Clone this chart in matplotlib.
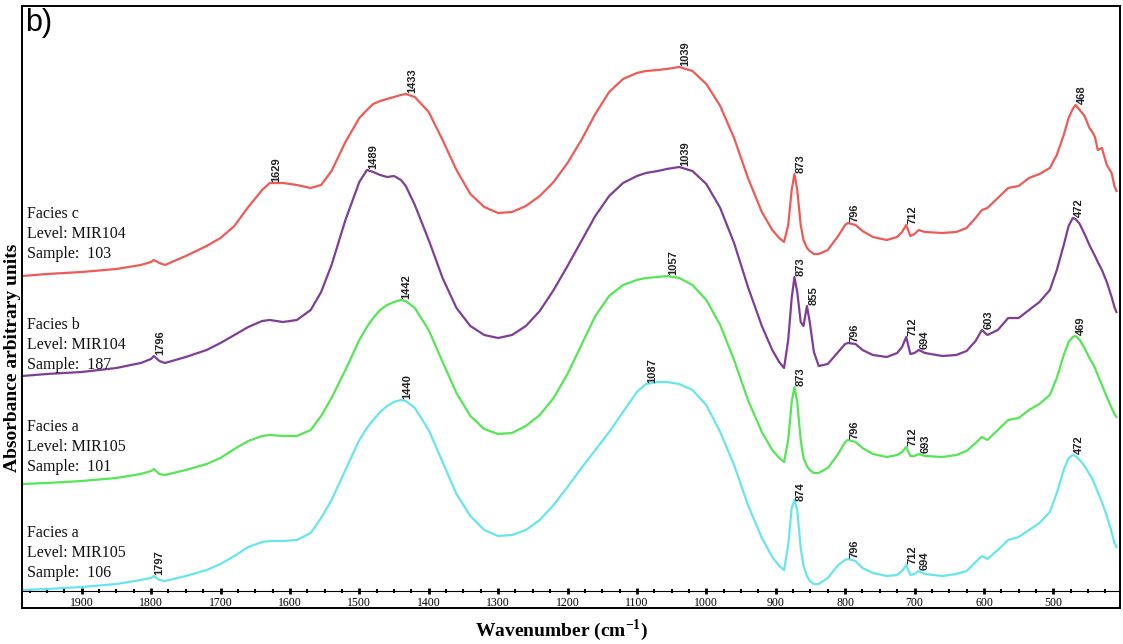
# FTIR SPECTRA - FACIES a, b, c

import numpy as np
import matplotlib.pyplot as plt
from matplotlib.ticker import FixedLocator, MultipleLocator

plt.rcParams['mathtext.fontset'] = 'custom'
plt.rcParams['mathtext.bf'] = 'Liberation Serif:bold'
plt.rcParams['mathtext.rm'] = 'Liberation Serif:bold'

# wavenumber grid (cm-1)
wavenumber = [1986, 1950, 1900, 1850, 1815, 1800, 1796, 1788, 1780, 1750,
              1720, 1700, 1680, 1660, 1640, 1629, 1610, 1590, 1570, 1555,
              1540, 1520, 1500, 1489, 1480, 1470, 1460, 1450, 1440, 1433,
              1420, 1400, 1380, 1360, 1340, 1320, 1300, 1280, 1260, 1240,
              1220, 1200, 1180, 1160, 1140, 1120, 1100, 1087, 1070, 1057,
              1039, 1020, 1000, 980, 960, 940, 920, 905, 895, 888,
              882, 877, 873, 869, 864, 860, 855, 851, 845, 838,
              825, 810, 800, 796, 785, 775, 760, 740, 725, 718,
              712, 706, 700, 694, 685, 660, 640, 625, 612, 603,
              595, 580, 565, 550, 535, 520, 505, 495, 485, 478,
              472, 468, 462, 455, 448, 443, 440, 436, 430, 423,
              416, 412, 409]

# stacked absorbance, arbitrary units
facies_c_103 = [332, 334, 336, 339, 343, 346, 348, 345, 343, 352,
                362, 370, 382, 401, 418, 425, 425, 423, 420, 423,
                437, 466, 490, 498, 504, 507, 509, 511, 513, 514,
                511, 496, 468, 438, 414, 401, 395, 396, 402, 412,
                426, 445, 468, 494, 516, 529, 535, 537, 538, 539,
                541, 537, 524, 502, 470, 430, 396, 378, 370, 366,
                383, 418, 434, 418, 383, 368, 360, 357, 354, 354,
                358, 372, 383, 385, 383, 377, 371, 368, 371, 376,
                383, 372, 374, 378, 376, 375, 376, 380, 390, 398,
                400, 410, 420, 422, 430, 434, 440, 453, 473, 490,
                499, 503, 498, 492, 480, 475, 471, 458, 460, 443,
                435, 422, 417]

facies_b_187 = [232, 234, 236, 240, 245, 249, 252, 247, 245, 251,
                258, 265, 273, 281, 287, 288, 286, 288, 298, 316,
                343, 388, 426, 438, 436, 433, 431, 432, 428, 422,
                403, 368, 330, 300, 282, 273, 270, 273, 282, 297,
                318, 342, 367, 392, 412, 425, 432, 435, 437, 439,
                441, 437, 424, 400, 365, 321, 282, 258, 246, 240,
                268, 310, 331, 316, 286, 282, 302, 286, 256, 242,
                244, 256, 264, 265, 264, 258, 253, 251, 255, 261,
                271, 254, 255, 258, 255, 252, 253, 257, 267, 278,
                273, 278, 290, 290, 298, 306, 318, 338, 363, 382,
                390, 389, 384, 374, 363, 356, 352, 346, 338, 326,
                311, 301, 296]

facies_a_101 = [124, 125, 127, 130, 134, 137, 139, 134, 133, 138,
                144, 150, 159, 167, 172, 173, 172, 172, 178, 192,
                210, 238, 268, 281, 290, 298, 303, 306, 308, 307,
                300, 278, 246, 215, 192, 179, 174, 175, 182, 193,
                210, 234, 263, 292, 312, 323, 328, 330, 331, 332,
                330, 323, 308, 283, 248, 208, 176, 158, 150, 146,
                168, 206, 221, 206, 168, 150, 142, 138, 135, 135,
                140, 154, 166, 168, 166, 160, 154, 151, 153, 156,
                161, 152, 152, 154, 152, 151, 153, 157, 165, 171,
                168, 178, 188, 190, 198, 204, 213, 230, 253, 266,
                271, 272, 268, 260, 250, 244, 240, 233, 223, 211,
                200, 194, 191]

facies_a_106 = [18, 19, 21, 24, 28, 30, 32, 28, 27, 32,
                38, 44, 52, 61, 66, 67, 67, 68, 75, 90,
                108, 138, 168, 180, 188, 196, 202, 206, 208, 207,
                200, 178, 146, 114, 92, 78, 72, 73, 78, 88,
                103, 121, 140, 158, 176, 196, 216, 224, 226, 226,
                224, 218, 203, 176, 143, 103, 70, 51, 42, 38,
                63, 100, 108, 98, 60, 42, 32, 27, 24, 24,
                30, 43, 48, 49, 47, 40, 35, 32, 33, 37,
                43, 33, 34, 37, 34, 32, 34, 37, 46, 52,
                49, 58, 68, 71, 78, 85, 96, 115, 138, 150,
                153, 152, 148, 142, 134, 128, 123, 116, 106, 92,
                76, 65, 61]

peaks_c_103 = [1629, 1433, 1039, 873, 796, 712, 468]
peaks_b_187 = [1796, 1489, 1039, 873, 855, 796, 712, 694, 603, 472]
peaks_a_101 = [1442, 1057, 873, 796, 712, 693, 469]
peaks_a_106 = [1797, 1440, 1087, 874, 796, 712, 694, 472]

sample_labels = [["Facies c", "Level: MIR104", "Sample:  103"],
                 ["Facies b", "Level: MIR104", "Sample:  187"],
                 ["Facies a", "Level: MIR105", "Sample:  101"],
                 ["Facies a", "Level: MIR105", "Sample:  106"]]
label_top = [394, 283, 181, 75]

tick_values = list(range(500, 2000, 100))

colors = ["#EE5A55", "#7E3E98", "#55E655", "#66E6EC"]


def plot_spectra():
    fig = plt.figure(figsize=(11.23, 6.44), dpi=100)
    ax = fig.add_axes([0.0196, 0.0559, 0.9777, 0.9348])
    ax.set_xlim(1986, 404)
    ax.set_ylim(0, 602)

    spectra = [facies_c_103, facies_b_187, facies_a_101, facies_a_106]
    peaks = [peaks_c_103, peaks_b_187, peaks_a_101, peaks_a_106]
    wn = np.array(wavenumber)

    for vals, pk, lines, top, col in zip(spectra, peaks, sample_labels, label_top, colors):
        ax.plot(wn, vals, color=col, lw=1.6, solid_joinstyle="round")
        for p in pk:
            yp = np.interp(p, wn[::-1], np.array(vals)[::-1])
            ax.annotate(str(p), (p, yp), xytext=(1, 1), textcoords="offset points",
                        rotation=90, ha="left", va="bottom", fontsize=8,
                        fontweight="bold", family="Liberation Sans", color="#222222")
        for i, t in enumerate(lines):
            ax.text(1979, top - 20 * i, t, ha="left", va="center", fontsize=11.5,
                    family="Liberation Serif", color="#111111")

    ax.set_xticks([])
    ax.set_yticks([])
    for s in ax.spines.values():
        s.set_linewidth(1.4)

    # axis line with ticks sits inside the frame
    sec = ax.secondary_xaxis(17 / 602)
    sec.xaxis.set_major_locator(FixedLocator(tick_values))
    sec.xaxis.set_minor_locator(MultipleLocator(25))
    sec.tick_params(which="major", direction="inout", length=4, width=2, pad=2, labelsize=8.5)
    sec.tick_params(which="minor", direction="inout", length=3, width=1.5)
    sec.spines["bottom"].set_linewidth(0.8)
    for lab in sec.get_xticklabels():
        lab.set_family("Liberation Serif")

    fig.text(0.011, 0.444, "Absorbance arbitrary units", rotation=90, ha="center", va="center",
             fontsize=14, fontweight="bold", family="Liberation Serif")
    fig.text(0.5, 0.022, r"Wavenumber (cm$^{\mathbf{-1}}$)", ha="center", va="center",
             fontsize=14, fontweight="bold", family="Liberation Serif")
    fig.text(0.022, 0.988, "b)", ha="left", va="top", fontsize=22, family="Liberation Sans")

    fig.savefig("out.png", dpi=100)


def main():
    plot_spectra()


if __name__ == "__main__":
    main()
